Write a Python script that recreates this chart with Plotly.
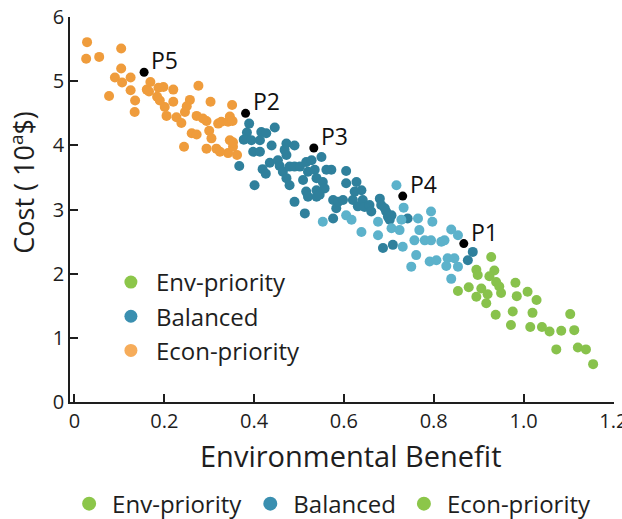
import plotly.graph_objects as go

# ---------------- data ----------------
econ_x = [0.028, 0.026, 0.055, 0.104, 0.104, 0.090, 0.106, 0.125, 0.125, 0.077,
          0.135, 0.134, 0.169, 0.161, 0.166, 0.187, 0.198, 0.184, 0.190, 0.220,
          0.220, 0.201, 0.205, 0.227, 0.238, 0.257, 0.250, 0.246, 0.276, 0.272,
          0.261, 0.272, 0.244, 0.294, 0.303, 0.300, 0.305, 0.316, 0.320, 0.327,
          0.342, 0.346, 0.351, 0.352, 0.342, 0.346, 0.362, 0.353, 0.324, 0.294,
          0.286, 0.353]
econ_y = [5.61, 5.35, 5.38, 5.51, 5.20, 5.06, 4.98, 5.06, 4.86, 4.77,
          4.70, 4.52, 4.99, 4.87, 4.84, 4.90, 4.91, 4.76, 4.70, 4.87,
          4.68, 4.60, 4.46, 4.44, 4.35, 4.71, 4.61, 4.52, 4.93, 4.46,
          4.19, 4.17, 3.98, 4.38, 4.68, 4.23, 4.11, 3.95, 4.34, 4.37,
          4.37, 4.45, 4.63, 4.38, 3.88, 4.08, 3.85, 3.98, 3.90, 3.95,
          4.42, 4.05]

bal_dark_x = [0.389, 0.384, 0.377, 0.394, 0.416, 0.427, 0.446, 0.413, 0.398, 0.413,
              0.439, 0.367, 0.435, 0.419, 0.426, 0.401, 0.472, 0.490, 0.468, 0.472,
              0.453, 0.457, 0.464, 0.479, 0.490, 0.502, 0.516, 0.528, 0.520, 0.509,
              0.472, 0.479, 0.535, 0.539, 0.550, 0.553, 0.557, 0.516, 0.539, 0.490,
              0.513, 0.572, 0.576, 0.583, 0.561, 0.605, 0.520, 0.539, 0.546, 0.576,
              0.587, 0.598, 0.605, 0.628, 0.624, 0.639, 0.620, 0.631, 0.642, 0.646,
              0.657, 0.661, 0.680, 0.683, 0.691, 0.694, 0.698, 0.702, 0.706, 0.687,
              0.742, 0.709, 0.887, 0.876]
bal_dark_y = [4.34, 4.20, 4.09, 4.08, 4.21, 4.19, 4.28, 4.08, 3.90, 3.90,
              4.00, 3.68, 3.73, 3.63, 3.56, 3.38, 4.03, 4.00, 3.93, 3.85,
              3.77, 3.68, 3.59, 3.67, 3.67, 3.67, 3.74, 3.77, 3.59, 3.46,
              3.49, 3.38, 3.62, 3.49, 3.82, 3.43, 3.33, 3.28, 3.20, 3.12,
              2.94, 3.62, 3.15, 3.02, 3.62, 3.60, 3.20, 3.30, 3.23, 2.86,
              3.12, 3.15, 3.41, 3.43, 3.28, 3.30, 3.15, 3.05, 3.15, 3.04,
              3.07, 2.97, 3.17, 3.07, 3.02, 2.97, 2.89, 2.84, 2.91, 2.40,
              2.86, 2.45, 2.34, 2.21]

bal_light_x = [0.553, 0.605, 0.617, 0.639, 0.676, 0.676, 0.706, 0.717, 0.733, 0.728,
               0.724, 0.765, 0.768, 0.757, 0.794, 0.797, 0.780, 0.794, 0.731, 0.761,
               0.817, 0.824, 0.839, 0.854, 0.791, 0.806, 0.831, 0.846, 0.828, 0.854,
               0.750, 0.839]
bal_light_y = [2.81, 2.91, 2.84, 2.65, 2.81, 2.60, 2.71, 3.38, 3.03, 2.84,
               2.68, 2.86, 2.68, 2.52, 2.97, 2.81, 2.52, 2.52, 2.42, 2.29,
               2.50, 2.52, 2.69, 2.60, 2.19, 2.21, 2.24, 2.24, 2.12, 2.11,
               2.11, 1.92]

env_x = [0.928, 0.895, 0.898, 0.935, 0.924, 0.939, 0.946, 0.950, 0.854, 0.878,
         0.906, 0.895, 0.920, 0.917, 0.982, 0.985, 1.009, 1.029, 0.938, 0.976,
         1.020, 0.972, 1.015, 1.041, 1.058, 1.084, 1.104, 1.113, 1.073, 1.121,
         1.139, 1.155]
env_y = [2.26, 2.06, 1.98, 2.05, 1.96, 1.87, 1.80, 1.70, 1.73, 1.79,
         1.77, 1.64, 1.68, 1.54, 1.86, 1.65, 1.72, 1.59, 1.36, 1.41,
         1.39, 1.20, 1.17, 1.17, 1.10, 1.11, 1.37, 1.12, 0.82, 0.85,
         0.82, 0.59]

key_labels = ["P5", "P2", "P3", "P4", "P1"]
key_x = [0.155, 0.381, 0.533, 0.731, 0.867]
key_y = [5.14, 4.50, 3.96, 3.21, 2.47]

x_ticks = [0, 0.2, 0.4, 0.6, 0.8, 1.0, 1.2]
x_tick_text = ["0", "0.2", "0.4", "0.6", "0.8", "1.0", "1.2"]
y_ticks = [0, 1, 2, 3, 4, 5, 6]

legend_in_names = ["Env-priority", "Balanced", "Econ-priority"]
legend_in_colors = ["#8CC64A", "#3A8FB0", "#F6AC5A"]
legend_out_names = ["Env-priority", "Balanced", "Econ-priority"]
legend_out_colors = ["#8CC64A", "#3A8FB0", "#8CC64A"]

x_title = "Environmental Benefit"
y_title = "Cost ( 10<sup>a</sup>$)"

# ---------------- figure ----------------
FONT = "'Open Sans', 'Noto Sans', sans-serif"
INK = "#1e1e1e"
MS = 10

fig = go.Figure()

fig.add_trace(go.Scatter(x=econ_x, y=econ_y, mode="markers", showlegend=False,
                         marker=dict(size=MS, color="#EF9C3C"), hoverinfo="skip"))
fig.add_trace(go.Scatter(x=bal_dark_x, y=bal_dark_y, mode="markers", showlegend=False,
                         marker=dict(size=MS, color="#2F809C"), hoverinfo="skip"))
fig.add_trace(go.Scatter(x=bal_light_x, y=bal_light_y, mode="markers", showlegend=False,
                         marker=dict(size=MS, color="#5CB2CB"), hoverinfo="skip"))
fig.add_trace(go.Scatter(x=env_x, y=env_y, mode="markers", showlegend=False,
                         marker=dict(size=MS, color="#88C24C"), hoverinfo="skip"))
fig.add_trace(go.Scatter(x=key_x, y=key_y, mode="markers", showlegend=False,
                         marker=dict(size=9, color="#000"), hoverinfo="skip"))

for lab, kx, ky in zip(key_labels, key_x, key_y):
    fig.add_annotation(x=kx, y=ky, text=lab, showarrow=False, xanchor="left",
                       yanchor="middle", xshift=5, yshift=12,
                       font=dict(size=23, color="#111", family=FONT))

for i, (n, c) in enumerate(zip(legend_in_names, legend_in_colors)):
    fig.add_trace(go.Scatter(x=[None], y=[None], mode="markers", name=n,
                             legend="legend", legendgroup="a%d" % i,
                             marker=dict(size=13, color=c)))
for i, (n, c) in enumerate(zip(legend_out_names, legend_out_colors)):
    fig.add_trace(go.Scatter(x=[None], y=[None], mode="markers", name=n,
                             legend="legend2", legendgroup="b%d" % i,
                             marker=dict(size=14, color=c)))

axis_common = dict(showline=True, linecolor=INK, linewidth=1.6, ticks="inside",
                   ticklen=8, tickwidth=1.5, tickcolor=INK, showgrid=False,
                   zeroline=False, automargin=False, ticklabeloverflow="allow",
                   tickfont=dict(size=20, color=INK, family=FONT))

fig.update_xaxes(range=[-0.01, 1.2015], tickvals=x_ticks, ticktext=x_tick_text,
                 **axis_common)
fig.update_yaxes(range=[0, 6.002], tickvals=y_ticks, **axis_common)

fig.add_annotation(xref="paper", yref="paper", x=0.517, y=-0.140, text=x_title,
                   showarrow=False, xanchor="center", yanchor="middle",
                   font=dict(size=29, color=INK, family=FONT))
fig.add_annotation(xref="paper", yref="paper", x=-0.088, y=0.57, text=y_title,
                   showarrow=False, textangle=-90, xanchor="center", yanchor="middle",
                   font=dict(size=27, color=INK, family=FONT))

fig.update_layout(
    width=622, height=519,
    margin=dict(l=70, r=8, t=17, b=117, autoexpand=False),
    paper_bgcolor="white", plot_bgcolor="white",
    font=dict(family=FONT, color=INK),
    legend=dict(x=0.066, y=0.369, xanchor="left", yanchor="top",
                font=dict(size=24, color=INK, family=FONT),
                bgcolor="rgba(0,0,0,0)", traceorder="grouped", tracegroupgap=0,
                itemwidth=40),
    legend2=dict(orientation="h", x=0.48, y=-0.265, xanchor="center", yanchor="middle",
                 font=dict(size=24, color=INK, family=FONT),
                 bgcolor="rgba(0,0,0,0)", itemwidth=36, tracegroupgap=0),
)

fig.write_html("out.html", config={"displayModeBar": False},
               post_script="document.body.style.margin='0px';document.body.style.overflow='hidden';")
